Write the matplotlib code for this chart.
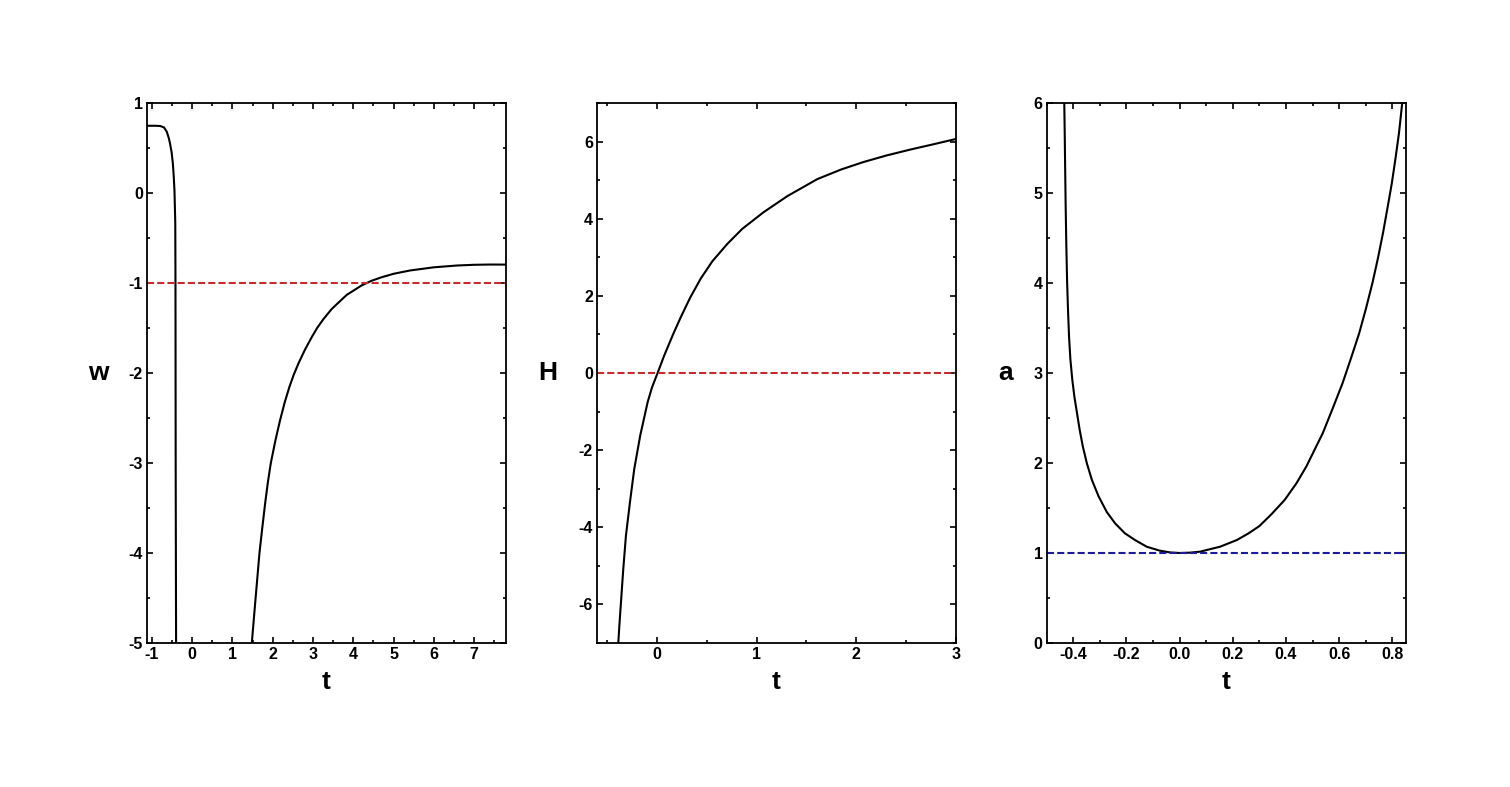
import numpy as np
from matplotlib import pyplot as plt
from matplotlib.ticker import MultipleLocator

plt.rcParams['font.family'] = ['Liberation Sans', 'DejaVu Sans']
plt.rcParams['font.weight'] = 'bold'
plt.rcParams['axes.unicode_minus'] = False

# w(t): two branches
w_t1 = [-1.12, -0.9, -0.79, -0.70, -0.63, -0.58, -0.55, -0.51, -0.48, -0.46, -0.44,
        -0.43, -0.42, -0.415, -0.41, -0.40]
w_v1 = [0.748, 0.748, 0.745, 0.73, 0.68, 0.61, 0.55, 0.45, 0.33, 0.2, 0.03,
        -0.15, -0.33, -1.0, -3.0, -5.0]
w_t2 = [1.48, 1.563, 1.67, 1.74, 1.811, 1.88, 1.952, 2.07, 2.184, 2.3, 2.415, 2.52,
        2.638, 2.8, 2.969, 3.1, 3.259, 3.46, 3.672, 3.84, 4.0, 4.21, 4.45, 4.706,
        5.0, 5.41, 6.0, 6.57, 7.0, 7.4, 7.79]
w_v2 = [-5.0, -4.559, -4.0, -3.72, -3.448, -3.21, -3.0, -2.74, -2.52, -2.32, -2.152, -2.02,
        -1.893, -1.74, -1.6, -1.50, -1.40, -1.29, -1.20, -1.13, -1.085, -1.025, -0.975, -0.935,
        -0.897, -0.86, -0.825, -0.805, -0.797, -0.794, -0.795]

# H(t)
H_t = [-0.387, -0.375, -0.36, -0.337, -0.31, -0.27, -0.227, -0.167, -0.093, -0.05, 0.007,
       0.073, 0.167, 0.24, 0.333, 0.44, 0.557, 0.707, 0.857, 1.07, 1.31, 1.61, 1.85,
       2.07, 2.3, 2.55, 2.77, 3.0]
H_v = [-7.0, -6.5, -5.94, -5.08, -4.21, -3.35, -2.49, -1.62, -0.76, -0.38, 0.0,
       0.45, 1.03, 1.45, 1.95, 2.45, 2.90, 3.35, 3.74, 4.17, 4.59, 5.03, 5.28,
       5.47, 5.64, 5.80, 5.93, 6.07]

# a(t)
a_t = [-0.434, -0.4325, -0.431, -0.429, -0.4265, -0.4235, -0.420, -0.416, -0.411, -0.404,
       -0.396, -0.386, -0.376, -0.364, -0.349, -0.330, -0.305, -0.274, -0.243, -0.206,
       -0.168, -0.124, -0.075, -0.035, 0.0, 0.04, 0.077, 0.152, 0.215, 0.26, 0.30,
       0.345, 0.395, 0.439, 0.476, 0.538, 0.576, 0.613, 0.645, 0.675, 0.701, 0.725,
       0.746, 0.765, 0.782, 0.798, 0.812, 0.825, 0.837]
a_v = [6.0, 5.7, 5.35, 4.9, 4.45, 4.03, 3.70, 3.40, 3.15, 2.93,
       2.737, 2.552, 2.367, 2.181, 1.996, 1.811, 1.63, 1.455, 1.33, 1.219,
       1.144, 1.07, 1.026, 1.006, 1.0, 1.004, 1.015, 1.07, 1.144, 1.22, 1.30,
       1.43, 1.59, 1.774, 1.959, 2.33, 2.61, 2.89, 3.17, 3.44, 3.72, 4.0,
       4.28, 4.56, 4.84, 5.11, 5.39, 5.67, 6.0]

red = '#c42a2e'
blue = '#1c1c96'
dash = (3.4, 1.5)

fig = plt.figure(figsize=(15.1, 7.87), dpi=100)
ax1 = fig.add_axes([0.0974, 0.183, 0.2377, 0.686])
ax2 = fig.add_axes([0.3954, 0.183, 0.2377, 0.686])
ax3 = fig.add_axes([0.6932, 0.183, 0.2377, 0.686])

ax1.plot(w_t1, w_v1, color='black', lw=1.5)
ax1.plot(w_t2, w_v2, color='black', lw=1.5)
ax1.axhline(-1, color=red, lw=1.5, dashes=dash)
ax1.set_xlim(-1.12, 7.79)
ax1.set_ylim(-5, 1)
ax1.xaxis.set_major_locator(MultipleLocator(1))
ax1.xaxis.set_minor_locator(MultipleLocator(0.5))
ax1.yaxis.set_major_locator(MultipleLocator(1))
ax1.yaxis.set_minor_locator(MultipleLocator(0.5))
ax1.set_ylabel('w')
ax1.yaxis.set_label_coords(-0.135, 0.5)

ax2.plot(H_t, H_v, color='black', lw=1.5)
ax2.axhline(0, color=red, lw=1.5, dashes=dash)
ax2.set_xlim(-0.6, 3)
ax2.set_ylim(-7, 7)
ax2.xaxis.set_major_locator(MultipleLocator(1))
ax2.xaxis.set_minor_locator(MultipleLocator(0.5))
ax2.yaxis.set_major_locator(MultipleLocator(2))
ax2.yaxis.set_minor_locator(MultipleLocator(1))
ax2.set_ylabel('H')
ax2.yaxis.set_label_coords(-0.136, 0.5)

ax3.plot(a_t, a_v, color='black', lw=1.5)
ax3.axhline(1, color=blue, lw=1.5, dashes=dash)
ax3.set_xlim(-0.5, 0.85)
ax3.set_ylim(0, 6)
ax3.xaxis.set_major_locator(MultipleLocator(0.2))
ax3.xaxis.set_minor_locator(MultipleLocator(0.1))
ax3.yaxis.set_major_locator(MultipleLocator(1))
ax3.yaxis.set_minor_locator(MultipleLocator(0.5))
ax3.xaxis.set_major_formatter(lambda v, p: '%.1f' % v)
ax3.set_ylabel('a')
ax3.yaxis.set_label_coords(-0.116, 0.5)

for ax in (ax1, ax2, ax3):
    ax.set_xlabel('t', fontsize=19, fontweight='bold', labelpad=6)
    ax.yaxis.label.set_fontsize(19)
    ax.yaxis.label.set_rotation(0)
    ax.yaxis.label.set_va('center')
    ax.yaxis.label.set_ha('center')
    ax.yaxis.label.set_fontweight('bold')
    ax.tick_params(which='both', direction='in', top=True, right=True,
                   labelsize=11.5, pad=3, width=1.2)
    ax.tick_params(which='major', length=4)
    ax.tick_params(which='minor', length=2.5)
    for s in ax.spines.values():
        s.set_linewidth(1.3)

fig.savefig('out.png', dpi=100)
